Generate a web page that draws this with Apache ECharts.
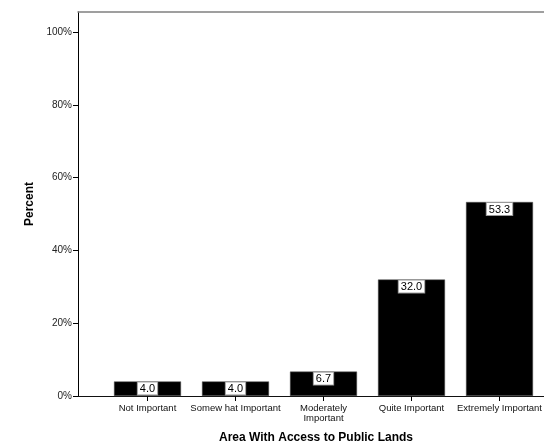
<!DOCTYPE html>
<html><head><meta charset="utf-8">
<script src="https://cdn.jsdelivr.net/npm/echarts@6/dist/echarts.min.js"></script>
<style>html,body{margin:0;padding:0;background:#fff}#c{width:544px;height:446px}</style>
</head><body><div id="c"></div>
<script>
const categories = ['Not Important', 'Somew hat Important', 'Moderately\nImportant', 'Quite Important', 'Extremely Important'];
const percents = [4.0, 4.0, 6.7, 32.0, 53.3];
const yTicks = [0, 20, 40, 60, 80, 100];
const xTitle = 'Area With Access to Public Lands';
const yTitle = 'Percent';

const font = 'Arial, "Liberation Sans", sans-serif';
const chart = echarts.init(document.getElementById('c'), null, {renderer: 'canvas'});
chart.setOption({
  animation: false,
  backgroundColor: '#fff',
  grid: [
    {left: 78, top: 12, right: 0, bottom: 50, containLabel: false, outerBoundsMode: 'none'},
    {left: 103.5, top: 12, width: 440, bottom: 50, containLabel: false, outerBoundsMode: 'none'}
  ],
  xAxis: [
    {gridIndex: 0, type: 'value', min: 0, max: 1, position: 'bottom',
     axisLine: {show: true, onZero: false, lineStyle: {color: '#111', width: 1}},
     axisTick: {show: false}, axisLabel: {show: false}, splitLine: {show: false},
     name: xTitle, nameLocation: 'middle', nameGap: 36,
     nameTextStyle: {fontFamily: font, fontWeight: 'bold', fontSize: 12, color: '#000', padding: [0, 0, 0, 10]}},
    {gridIndex: 0, type: 'value', min: 0, max: 1, position: 'top',
     axisLine: {show: true, onZero: false, lineStyle: {color: '#808080', width: 1.5}},
     axisTick: {show: false}, axisLabel: {show: false}, splitLine: {show: false}},
    {gridIndex: 1, type: 'category', data: categories,
     axisLine: {show: false},
     axisTick: {show: true, alignWithLabel: true, length: 5, lineStyle: {color: '#000'}},
     axisLabel: {interval: 0, fontFamily: font, fontSize: 9.5, color: '#111', margin: 7, lineHeight: 10},
     splitLine: {show: false}}
  ],
  yAxis: [
    {gridIndex: 0, type: 'value', min: 0, max: 105.5,
     axisLine: {show: true, lineStyle: {color: '#000', width: 1}},
     axisTick: {show: true, length: 5, customValues: yTicks, lineStyle: {color: '#000'}},
     axisLabel: {fontFamily: font, fontSize: 10, color: '#222', margin: 6, customValues: yTicks,
       formatter: v => v + '%'},
     splitLine: {show: false},
     name: yTitle, nameLocation: 'middle', nameGap: 38, nameRotate: 90,
     nameTextStyle: {fontFamily: font, fontWeight: 'bold', fontSize: 12, color: '#000'}},
    {gridIndex: 1, type: 'value', min: 0, max: 105.5, show: false, splitLine: {show: false}}
  ],
  series: [{
    type: 'bar', xAxisIndex: 2, yAxisIndex: 1,
    data: percents, barWidth: 67,
    itemStyle: {color: '#000', borderColor: '#555', borderWidth: 0.5},
    label: {show: true, position: 'insideTop', distance: 1,
      formatter: p => p.value.toFixed(1),
      fontFamily: font, fontSize: 11, color: '#000',
      backgroundColor: '#fff', borderColor: '#999', borderWidth: 1, padding: [1, 2, 0, 2]}
  }]
});
</script></body></html>
